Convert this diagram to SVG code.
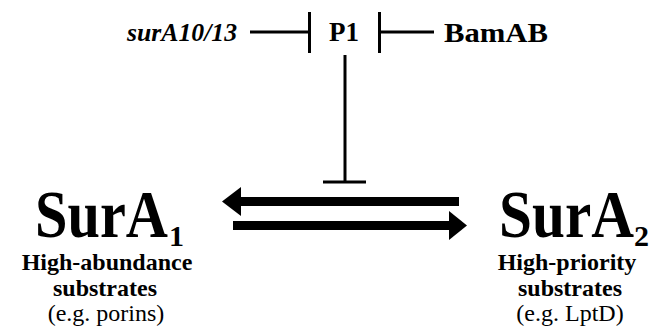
<svg xmlns="http://www.w3.org/2000/svg" width="655" height="331" viewBox="0 0 655 331">
<style>
text, tspan { font-family: "Liberation Serif", "DejaVu Serif", serif; fill: #000; }
.b { font-weight: bold; }
.sub { font-size: 24px; }
.big { font-size: 68px; font-weight: bold; }
.idx { font-size: 30px; font-weight: bold; }
.ln { stroke: #000; stroke-width: 3; fill: none; }
</style>
<rect width="655" height="331" fill="#fff"/>
<g id="surA1013"><text x="127" y="41" class="b" font-style="italic" font-size="25" textLength="110" lengthAdjust="spacingAndGlyphs">surA10/13</text></g>
<g id="P1"><text x="329" y="41" class="b" font-size="28" textLength="30" lengthAdjust="spacingAndGlyphs">P1</text></g>
<g id="BamAB"><text x="444" y="42" class="b" font-size="28" textLength="104" lengthAdjust="spacingAndGlyphs">BamAB</text></g>
<g id="SurA1">
<text x="35" y="237" class="big"><tspan textLength="133" lengthAdjust="spacingAndGlyphs">SurA</tspan><tspan x="169" y="246" class="idx">1</tspan></text>
<text x="107" y="270" class="b sub" text-anchor="middle">High-abundance</text>
<text x="105" y="296" class="b sub" text-anchor="middle">substrates</text>
<text x="106" y="321" class="sub" text-anchor="middle">(e.g. porins)</text>
</g>
<g id="SurA2">
<text x="499" y="237" class="big"><tspan textLength="135" lengthAdjust="spacingAndGlyphs">SurA</tspan><tspan x="634" y="246" class="idx">2</tspan></text>
<text x="567" y="270" class="b sub" text-anchor="middle">High-priority</text>
<text x="570" y="296" class="b sub" text-anchor="middle">substrates</text>
<text x="570" y="321" class="sub" text-anchor="middle">(e.g. LptD)</text>
</g>
<g id="connectors">
<line class="ln" x1="250" y1="32" x2="309" y2="32"/>
<line class="ln" x1="309.5" y1="12" x2="309.5" y2="53"/>
<line class="ln" x1="379" y1="32" x2="434" y2="32"/>
<line class="ln" x1="379.5" y1="12" x2="379.5" y2="53"/>
<line class="ln" x1="345" y1="55" x2="345" y2="182"/>
<line class="ln" x1="323" y1="182" x2="366" y2="182"/>
<rect x="240" y="197" width="219" height="9" fill="#000"/>
<polygon points="222,201.5 241,187 241,216" fill="#000"/>
<rect x="233" y="221" width="217" height="9" fill="#000"/>
<polygon points="467,225.5 449,211 449,240" fill="#000"/>
</g>
</svg>
